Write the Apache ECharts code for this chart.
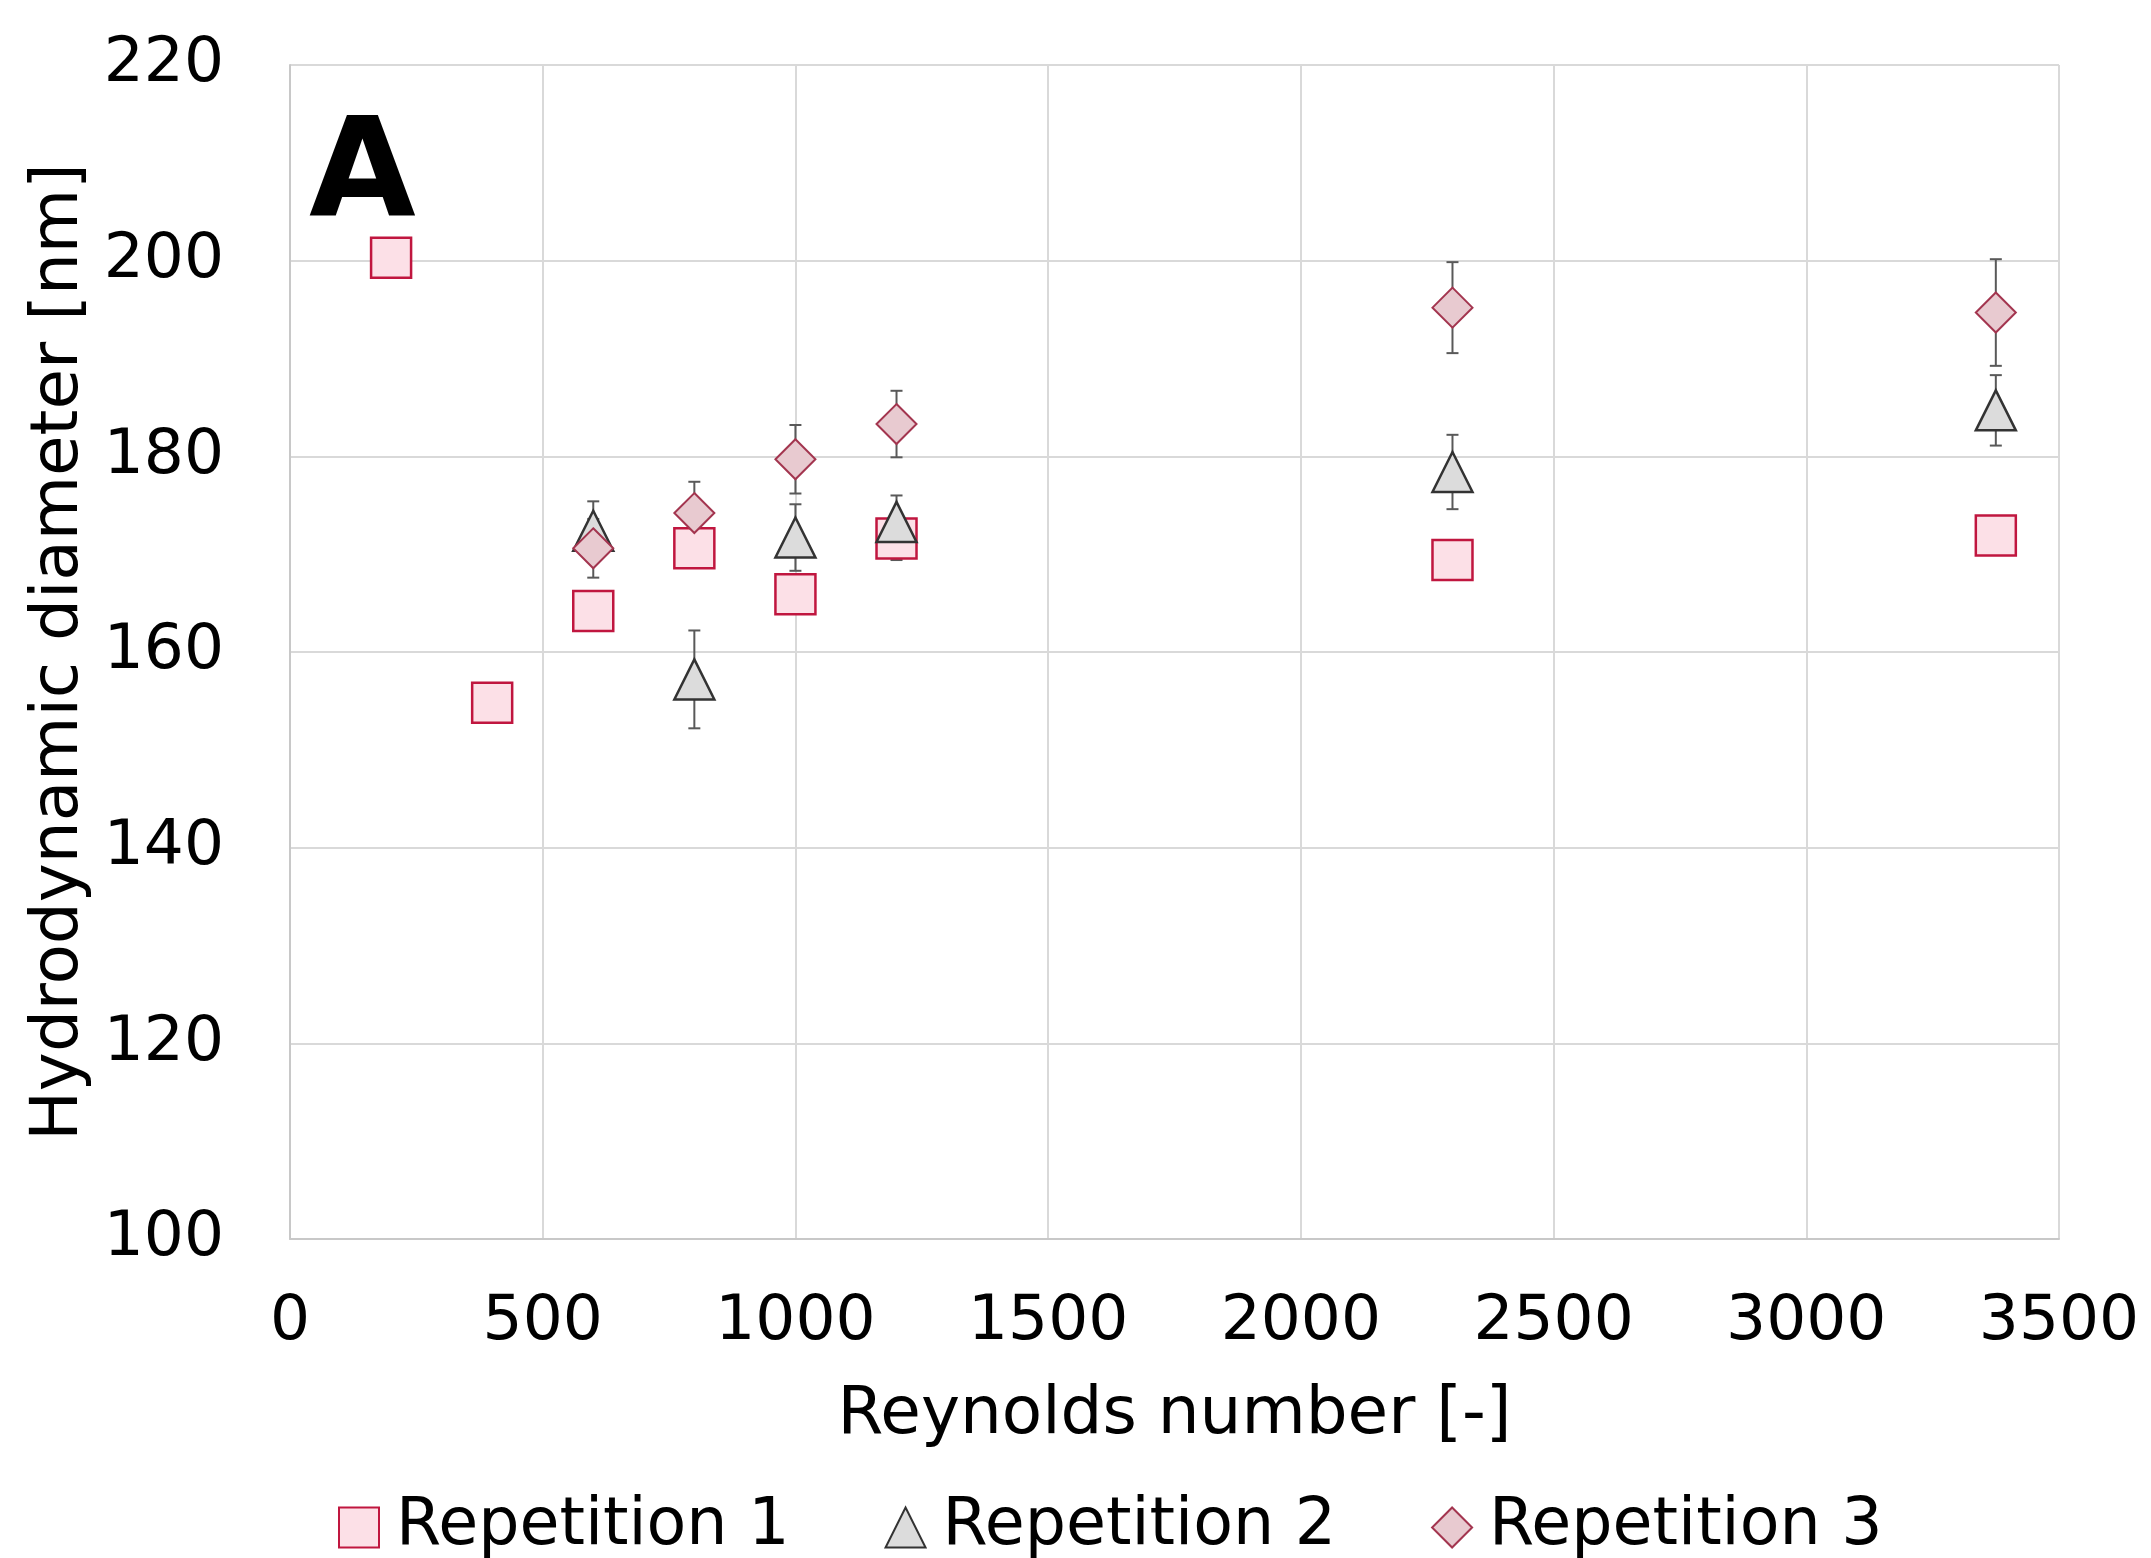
<!DOCTYPE html>
<html>
<head>
<meta charset="utf-8">
<script src="https://cdn.jsdelivr.net/npm/echarts@6/dist/echarts.min.js"></script>
<style>
html, body { margin: 0; padding: 0; background: #fff; }
#main { width: 2151px; height: 1558px; }
</style>
</head>
<body>
<div id="main"></div>
<script>
// Reynolds numbers (x)
var re1 = [200, 400, 600, 800, 1000, 1200, 2300, 3375];
var re23 = [600, 800, 1000, 1200, 2300, 3375];

// hydrodynamic diameter [nm]
var rep1 = [200.3, 154.8, 164.2, 170.6, 165.9, 171.6, 169.4, 171.9];
var rep1Err = [1.5, 1.5, 1.5, 1.5, 1.5, 2.2, 1.5, 1.5];
var rep2 = [172.4, 157.2, 171.7, 173.3, 178.4, 184.7];
var rep2Err = [3.0, 5.0, 3.4, 2.7, 3.8, 3.6];
var rep3 = [170.6, 174.2, 179.7, 183.3, 195.2, 194.7];
var rep3Err = [3.0, 3.2, 3.5, 3.4, 4.65, 5.45];

var names = ['Repetition 1', 'Repetition 2', 'Repetition 3'];
var xTicks = [0, 500, 1000, 1500, 2000, 2500, 3000, 3500];
var yTicks = [100, 120, 140, 160, 180, 200, 220];

var FONT = 'DejaVu Sans';

function pts(xs, ys) {
	var out = [];
	for (var i = 0; i < xs.length; i++) out.push([xs[i], ys[i]]);
	return out;
}
function bars(xs, ys, es) {
	var out = [];
	for (var i = 0; i < xs.length; i++) out.push([xs[i], ys[i] - es[i], ys[i] + es[i]]);
	return out;
}

// error bar drawing
function errBar(params, api) {
	var x = api.value(0);
	var lo = api.coord([x, api.value(1)]);
	var hi = api.coord([x, api.value(2)]);
	var cap = 6;
	var st = { stroke: '#595959', lineWidth: 2 };
	return {
		type : 'group',
		children : [
			{ type : 'line', shape : { x1 : hi[0], y1 : hi[1], x2 : lo[0], y2 : lo[1] }, style : st },
			{ type : 'line', shape : { x1 : hi[0] - cap, y1 : hi[1], x2 : hi[0] + cap, y2 : hi[1] }, style : st },
			{ type : 'line', shape : { x1 : lo[0] - cap, y1 : lo[1], x2 : lo[0] + cap, y2 : lo[1] }, style : st }
		]
	};
}

var chart = echarts.init(document.getElementById('main'));
var option = {
	backgroundColor : '#fff',
	animation : false,
	grid : { left : 290, right : 92, top : 65, bottom : 319 },
	xAxis : {
		type : 'value',
		min : xTicks[0],
		max : xTicks[xTicks.length - 1],
		interval : 500,
		name : 'Reynolds number [-]',
		nameLocation : 'middle',
		nameGap : 144,
		nameTextStyle : { fontFamily : FONT, fontSize : 66, color : '#000' },
		axisLine : { show : true, lineStyle : { color : '#c8c8c8', width : 2 } },
		axisTick : { show : false },
		axisLabel : {
			fontFamily : FONT, fontSize : 63, color : '#000', margin : 52,
			formatter : function(v) { return String(v); }
		},
		splitLine : { show : true, lineStyle : { color : '#d9d9d9', width : 2 } }
	},
	yAxis : {
		type : 'value',
		min : yTicks[0],
		max : yTicks[yTicks.length - 1],
		interval : 20,
		name : 'Hydrodynamic diameter [nm]',
		nameLocation : 'middle',
		nameGap : 195,
		nameTextStyle : { fontFamily : FONT, fontSize : 66, color : '#000' },
		axisLine : { show : true, lineStyle : { color : '#c8c8c8', width : 2 } },
		axisTick : { show : false },
		axisLabel : {
			fontFamily : FONT, fontSize : 63, color : '#000', margin : 66,
			formatter : function(v) { return String(v); }
		},
		splitLine : { show : true, lineStyle : { color : '#d9d9d9', width : 2 } }
	},
	legend : {
		data : names,
		left : 333,
		top : 1490,
		itemWidth : 40,
		itemHeight : 40,
		itemGap : 95,
		textStyle : { fontFamily : FONT, fontSize : 65, color : '#000', padding : [0, 0, 0, 12] }
	},
	graphic : [ {
		type : 'text',
		left : 309,
		top : 110,
		style : { text : 'A', font : 'bold 138px "DejaVu Sans"', fill : '#000' }
	} ],
	series : [
		{ type : 'custom', renderItem : errBar, data : bars(re1, rep1, rep1Err), z : 1, silent : true },
		{ type : 'custom', renderItem : errBar, data : bars(re23, rep2, rep2Err), z : 1, silent : true },
		{ type : 'custom', renderItem : errBar, data : bars(re23, rep3, rep3Err), z : 1, silent : true },
		{
			name : names[0], type : 'scatter', symbol : 'rect', symbolSize : 40, z : 2,
			itemStyle : { color : '#fce0e7', borderColor : '#c0163f', borderWidth : 2.5, opacity : 1 },
			data : pts(re1, rep1)
		},
		{
			name : names[1], type : 'scatter', symbol : 'triangle', symbolSize : 40, z : 3,
			itemStyle : { color : '#dcdcdc', borderColor : '#333333', borderWidth : 2.5, opacity : 1 },
			data : pts(re23, rep2)
		},
		{
			name : names[2], type : 'scatter', symbol : 'diamond', symbolSize : 40, z : 4,
			itemStyle : { color : '#e8cad0', borderColor : '#a3354f', borderWidth : 2, opacity : 1 },
			data : pts(re23, rep3)
		}
	]
};
chart.setOption(option);
</script>
</body>
</html>
